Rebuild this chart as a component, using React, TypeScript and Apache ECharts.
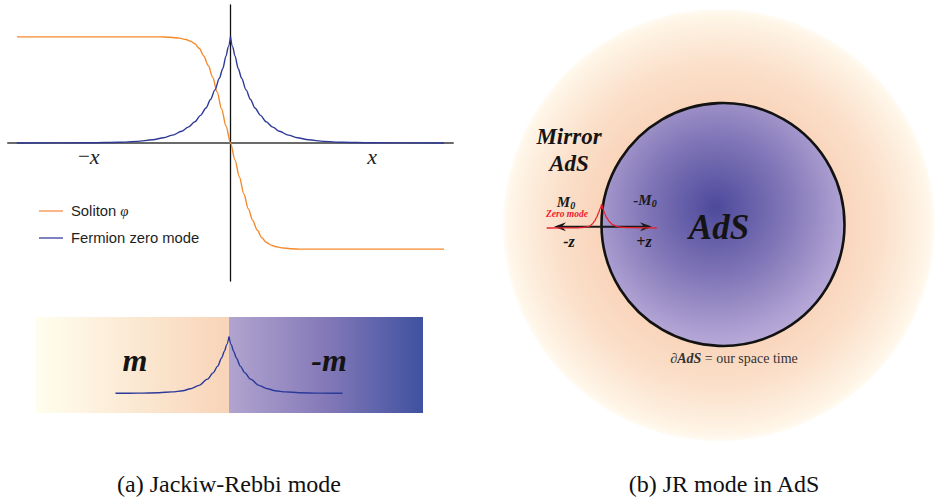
import React, { useEffect, useRef } from "react";
import * as echarts from "echarts";

// Panel (a): soliton profile (x in arbitrary units)
const solitonX = [-9.6, -3.2, -2.7, -2.3, -2.0, -1.8, -1.6, -1.4, -1.2, -1.0, -0.8, -0.6, -0.4, -0.2, 0, 0.2, 0.4, 0.6, 0.8, 1.0, 1.2, 1.4, 1.6, 1.8, 2.0, 2.3, 2.7, 3.2, 9.6];
const solitonY = [1.0, 1.0, 0.996, 0.988, 0.975, 0.96, 0.935, 0.89, 0.82, 0.73, 0.62, 0.48, 0.32, 0.16, 0, -0.16, -0.32, -0.48, -0.62, -0.73, -0.82, -0.89, -0.935, -0.96, -0.975, -0.988, -0.996, -1.0, -1.0];
// Fermion zero mode, left and right of the wall
const zeroLeftX = [-9.6, -6.3, -5.0, -4.2, -3.5, -3.0, -2.6, -2.2, -1.9, -1.6, -1.35, -1.1, -0.9, -0.7, -0.5, -0.35, -0.2, -0.1, 0];
const zeroLeftY = [0, 0.002, 0.007, 0.015, 0.03, 0.05, 0.074, 0.11, 0.15, 0.2, 0.26, 0.33, 0.41, 0.5, 0.61, 0.7, 0.82, 0.905, 1];
const zeroRightX = [0, 0.1, 0.2, 0.35, 0.5, 0.7, 0.9, 1.1, 1.35, 1.6, 1.9, 2.2, 2.6, 3.0, 3.5, 4.2, 5.0, 6.3, 9.6];
const zeroRightY = [1, 0.905, 0.82, 0.7, 0.61, 0.5, 0.41, 0.33, 0.26, 0.2, 0.15, 0.11, 0.074, 0.05, 0.03, 0.015, 0.007, 0.002, 0];
const tickLabelX = [-6.37, 6.37];
const tickLabels = ["{n|−}{i|x}", "{i|x}"];
const legendNames = ["Soliton φ", "Fermion zero mode"];

// Panel (a) lower strip: zero mode localised at the mass wall
const stripLeftX = [-5.0, -4.0, -3.08, -2.5, -2.03, -1.7, -1.32, -0.95, -0.7, -0.5, -0.33, -0.2, -0.1, 0];
const stripLeftY = [0, 0.003, 0.01, 0.025, 0.045, 0.08, 0.14, 0.25, 0.36, 0.48, 0.62, 0.745, 0.86, 1];
const stripRightX = [0, 0.1, 0.2, 0.33, 0.5, 0.7, 0.95, 1.32, 1.7, 2.03, 2.5, 3.08, 4.0, 5.0];
const stripRightY = [1, 0.86, 0.745, 0.62, 0.48, 0.36, 0.25, 0.14, 0.08, 0.045, 0.025, 0.01, 0.003, 0];

// Panel (b): zero mode at the AdS boundary
const adsLeftX = [-5.5, -2.5, -1.9, -1.5, -1.2, -0.95, -0.7, -0.5, -0.3, -0.15, 0];
const adsLeftY = [0, 0.005, 0.02, 0.045, 0.08, 0.16, 0.3, 0.45, 0.65, 0.82, 1];
const adsRightX = [0, 0.15, 0.3, 0.5, 0.8, 1.1, 1.5, 2.0, 2.5, 5.5];
const adsRightY = [1, 0.78, 0.6, 0.42, 0.25, 0.14, 0.07, 0.03, 0.015, 0];

const captions = ["(a) Jackiw-Rebbi mode", "(b) JR mode in AdS"];

const pair = (xs: number[], ys: number[]) => xs.map((x, i) => [x, ys[i]]);

const ORANGE = "#F58A2C";
const BLUE = "#2E3996";
const SERIF = "'Liberation Serif', 'Times New Roman', serif";
const SANS = "'Liberation Sans', Arial, sans-serif";

export default function App() {
  const ref = useRef<HTMLDivElement>(null);
  useEffect(() => {
    if (!ref.current) return;
    const chart = echarts.init(ref.current, undefined, { renderer: "svg" });
    const boldItalic = (size: number) => ({
      fontFamily: SERIF,
      fontWeight: "bold" as const,
      fontStyle: "italic" as const,
      fontSize: size,
    });
    const txt = (text: string, x: number, y: number, style: any, z = 50) => ({
      type: "text",
      x,
      y,
      z,
      style: { text, align: "center", verticalAlign: "middle", fill: "#141414", ...style },
    });
    const curve = (name: string, xi: number, data: number[][], color: string, width: number, z: number) => ({
      name,
      type: "line",
      xAxisIndex: xi,
      yAxisIndex: xi,
      data,
      symbol: "none",
      smooth: 0.3,
      smoothMonotone: "x",
      clip: false,
      lineStyle: { color, width },
      itemStyle: { color },
      z,
    });
    const option: any = {
      animation: false,
      backgroundColor: "#ffffff",
      grid: [
        { left: 8, top: 5, width: 445, height: 276 },
        { left: 115.5, top: 336.7, width: 227, height: 56.6 },
        { left: 546.7, top: 204, width: 110, height: 24 },
        { left: 8, top: 5, width: 445, height: 138 },
      ],
      xAxis: [
        {
          gridIndex: 0,
          type: "value",
          min: -10,
          max: 10,
          axisLine: { onZero: true, lineStyle: { color: "#6a6a6a", width: 2 } },
          axisTick: { show: false },
          splitLine: { show: false },
          axisLabel: { show: false },
        },
        { gridIndex: 1, type: "value", min: -5, max: 5, show: false },
        { gridIndex: 2, type: "value", min: -5.5, max: 5.5, show: false },
        {
          gridIndex: 3,
          type: "value",
          min: -10,
          max: 10,
          axisLine: { show: false },
          axisTick: { show: false },
          splitLine: { show: false },
          axisLabel: {
            customValues: tickLabelX,
            margin: 2,
            formatter: (v: number) => {
              const i = tickLabelX.indexOf(v);
              return i >= 0 ? tickLabels[i] : "";
            },
            rich: {
              n: { fontFamily: SERIF, fontSize: 21, color: "#222" },
              i: { fontFamily: SERIF, fontStyle: "italic", fontSize: 22, color: "#222" },
            },
          },
        },
      ],
      yAxis: [
        {
          gridIndex: 0,
          type: "value",
          min: -1.3,
          max: 1.3,
          axisLine: { show: true, onZero: true, lineStyle: { color: "#111", width: 1.3 } },
          axisTick: { show: false },
          axisLabel: { show: false },
          splitLine: { show: false },
        },
        { gridIndex: 1, type: "value", min: 0, max: 1, show: false },
        { gridIndex: 2, type: "value", min: 0, max: 1, show: false },
        { gridIndex: 3, type: "value", min: 0, max: 1, show: false },
      ],
      legend: {
        orient: "vertical",
        left: 39,
        top: 203.5,
        padding: 0,
        itemGap: 12,
        itemWidth: 24,
        itemHeight: 1.6,
        icon: "rect",
        data: [
          { name: legendNames[0], itemStyle: { color: "#F8A46A" } },
          { name: legendNames[1], itemStyle: { color: "#5C64B0" } },
        ],
        formatter: (name: string) => (name === legendNames[0] ? "Soliton {g|φ}" : name),
        textStyle: {
          fontFamily: SANS,
          fontSize: 14.8,
          lineHeight: 15,
          color: "#1e1e1e",
          padding: [0, 0, 0, 3],
          rich: {
            g: { fontFamily: SERIF, fontStyle: "italic", fontSize: 14.8, color: "#1e1e1e" },
          },
        },
      },
      series: [
        curve(legendNames[0], 0, pair(solitonX, solitonY), ORANGE, 1.4, 3),
        curve(legendNames[1], 0, pair(zeroLeftX, zeroLeftY), BLUE, 1.4, 3),
        curve(legendNames[1], 0, pair(zeroRightX, zeroRightY), BLUE, 1.4, 3),
        curve("strip-left", 1, pair(stripLeftX, stripLeftY), "#2B399A", 1.4, 3),
        curve("strip-right", 1, pair(stripRightX, stripRightY), "#2B399A", 1.4, 3),
        curve("ads-left", 2, pair(adsLeftX, adsLeftY), "#E8202C", 1.3, 4),
        curve("ads-right", 2, pair(adsRightX, adsRightY), "#E8202C", 1.3, 4),
      ],
      graphic: {
        elements: [
          // lower strip background
          {
            type: "rect",
            z: 0,
            shape: { x: 36, y: 317, width: 193, height: 96 },
            style: {
              fill: new echarts.graphic.LinearGradient(0, 0, 1, 0, [
                { offset: 0, color: "#FFFEEE" },
                { offset: 1, color: "#F8D4B8" },
              ]),
            },
          },
          {
            type: "rect",
            z: 0,
            shape: { x: 229, y: 317, width: 194, height: 96 },
            style: {
              fill: new echarts.graphic.LinearGradient(0, 0, 1, 0, [
                { offset: 0, color: "#B1A4CF" },
                { offset: 0.5, color: "#8479B8" },
                { offset: 1, color: "#3F51A0" },
              ]),
            },
          },
          txt("m", 135, 360, { ...boldItalic(32) }),
          txt("-m", 329, 360, { ...boldItalic(32) }),
          // panel (b) outer mirror region
          {
            type: "circle",
            z: 0,
            shape: { cx: 719, cy: 225, r: 216 },
            style: {
              fill: new echarts.graphic.RadialGradient(0.5, 0.5, 0.5, [
                { offset: 0, color: "#F7CBAE" },
                { offset: 0.56, color: "#F9D5BB" },
                { offset: 0.75, color: "#FBE0CB" },
                { offset: 0.9, color: "#FDEEDD" },
                { offset: 0.98, color: "#FFF7EA" },
                { offset: 1, color: "#FFFCF6" },
              ]),
            },
          },
          {
            type: "circle",
            z: 1,
            shape: { cx: 723, cy: 224.5, r: 121.5 },
            style: {
              fill: new echarts.graphic.RadialGradient(0.47, 0.43, 0.62, [
                { offset: 0, color: "#4D4A9C" },
                { offset: 0.45, color: "#7F74B6" },
                { offset: 0.85, color: "#B0A2D3" },
                { offset: 1, color: "#BDB0DC" },
              ]),
              stroke: "#121212",
              lineWidth: 2.6,
            },
          },
          // z axis arrow
          {
            type: "line",
            z: 2,
            shape: { x1: 557, y1: 226.8, x2: 649, y2: 226.8 },
            style: { stroke: "#1a1a1a", lineWidth: 2 },
          },
          {
            type: "polygon",
            z: 2,
            shape: { points: [[554, 226.8], [566, 222.3], [562, 226.8], [566, 231.3]] },
            style: { fill: "#1a1a1a" },
          },
          {
            type: "polygon",
            z: 2,
            shape: { points: [[652, 226.8], [640, 222.3], [644, 226.8], [640, 231.3]] },
            style: { fill: "#1a1a1a" },
          },
          txt("Mirror", 569, 136, { ...boldItalic(23) }),
          txt("AdS", 569, 163, { ...boldItalic(23) }),
          txt("AdS", 719, 227, { ...boldItalic(35) }),
          txt("{a|M}{s|0}", 566, 202, {
            rich: {
              a: { ...boldItalic(15), fill: "#1a1a1a" },
              s: { ...boldItalic(10), fill: "#1a1a1a", padding: [6, 0, 0, 0] },
            },
          }),
          txt("{a|-M}{s|0}", 645, 200, {
            rich: {
              a: { ...boldItalic(15), fill: "#1a1a1a" },
              s: { ...boldItalic(10), fill: "#1a1a1a", padding: [6, 0, 0, 0] },
            },
          }),
          txt("Zero mode", 567, 214, { ...boldItalic(9.5), fill: "#EE2030" }),
          txt("-z", 569, 241, { ...boldItalic(16) }),
          txt("+z", 644, 241, { ...boldItalic(16) }),
          txt("{b|∂AdS} = our space time", 734, 358, {
            fill: "#333",
            fontFamily: SERIF,
            fontSize: 14,
            rich: { b: { ...boldItalic(14), fill: "#333" } },
          }),
          // captions
          txt(captions[0], 229, 484, { fontFamily: SERIF, fontSize: 24, fill: "#111" }),
          txt(captions[1], 724, 484, { fontFamily: SERIF, fontSize: 24, fill: "#111" }),
        ],
      },
    };
    chart.setOption(option);
    return () => chart.dispose();
  }, []);
  return (
    <div
      ref={ref}
      style={{ position: "fixed", left: 0, top: 0, width: 935, height: 499, background: "#fff" }}
    />
  );
}
